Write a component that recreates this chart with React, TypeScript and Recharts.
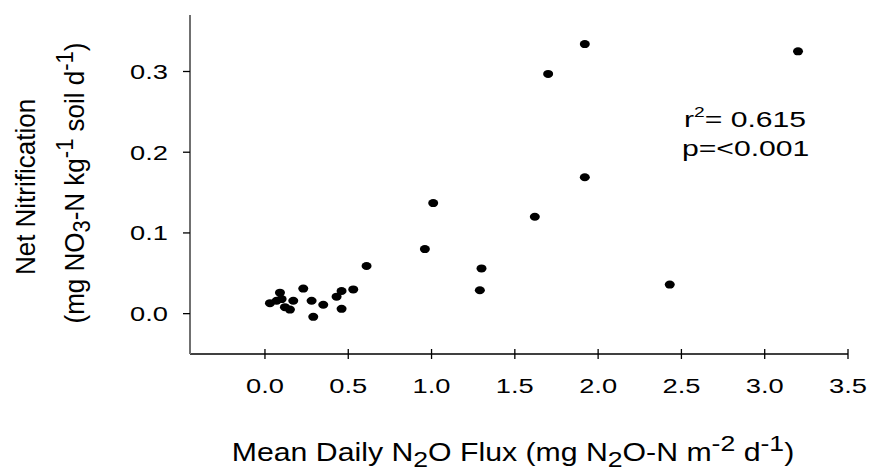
import { ScatterChart, Scatter, XAxis, YAxis } from "recharts";

// N2O flux (x) vs net nitrification (y)
const fluxValues = [
  0.03, 0.07, 0.09, 0.1, 0.12, 0.15, 0.17, 0.23, 0.28, 0.29, 0.35, 0.43, 0.46,
  0.46, 0.53, 0.61, 0.96, 1.01, 1.29, 1.3, 1.62, 1.7, 1.92, 1.92, 2.43, 3.2,
];
const nitrificationValues = [
  0.013, 0.016, 0.026, 0.018, 0.008, 0.005, 0.016, 0.031, 0.016, -0.004, 0.011,
  0.021, 0.028, 0.006, 0.03, 0.059, 0.08, 0.137, 0.029, 0.056, 0.12, 0.297,
  0.334, 0.169, 0.036, 0.325,
];
const xTicks = [0, 0.5, 1, 1.5, 2, 2.5, 3, 3.5];
const yTicks = [0, 0.1, 0.2, 0.3];
const statLines = ["0.615", "<0.001"];

const data = fluxValues.map((x, i) => ({ x, y: nitrificationValues[i] }));

const FONT = "Liberation Sans, Arial, sans-serif";
const FRAME = "#707070";

const XTick = (props: any) => {
  const { x, y, payload } = props;
  return (
    <g>
      <line x1={x} x2={x} y1={y - 5} y2={y + 5} stroke="#000" strokeWidth={1.3} />
      <text
        transform={`translate(${x},${y + 39}) scale(1.3,1)`}
        textAnchor="middle"
        fontSize={21}
        fontFamily={FONT}
        fill="#000"
      >
        {payload.value.toFixed(1)}
      </text>
    </g>
  );
};

const YTick = (props: any) => {
  const { x, y, payload } = props;
  return (
    <g>
      <line x1={x - 7} x2={x} y1={y} y2={y} stroke="#000" strokeWidth={1.3} />
      <text
        transform={`translate(${x - 22},${y + 7.5}) scale(1.3,1)`}
        textAnchor="end"
        fontSize={21}
        fontFamily={FONT}
        fill="#000"
      >
        {payload.value.toFixed(1)}
      </text>
    </g>
  );
};

const Dot = (props: any) => (
  <ellipse cx={props.cx} cy={props.cy} rx={5} ry={4} fill="#000" />
);

export default function App() {
  return (
    <div style={{ position: "absolute", left: 0, top: 0, background: "#fff" }}>
      <ScatterChart
        width={872}
        height={471}
        margin={{ top: 15, right: 24, bottom: 57, left: 130 }}
      >
        <XAxis
          type="number"
          dataKey="x"
          domain={[-0.45, 3.5]}
          ticks={xTicks}
          height={60}
          tickSize={0}
          tickMargin={0}
          tickLine={false}
          tick={<XTick />}
          axisLine={{ stroke: "#000", strokeWidth: 1.5 }}
          allowDataOverflow
        />
        <XAxis
          xAxisId="top"
          orientation="top"
          type="number"
          domain={[-0.45, 3.5]}
          height={0}
          tick={false}
          tickLine={false}
          axisLine={{ stroke: FRAME, strokeWidth: 2 }}
        />
        <YAxis
          type="number"
          dataKey="y"
          domain={[-0.05, 0.37]}
          ticks={yTicks}
          width={60}
          tickSize={0}
          tickMargin={0}
          tickLine={false}
          tick={<YTick />}
          axisLine={{ stroke: FRAME, strokeWidth: 2 }}
          allowDataOverflow
        />
        <YAxis
          yAxisId="right"
          orientation="right"
          type="number"
          domain={[-0.05, 0.37]}
          width={0}
          tick={false}
          tickLine={false}
          axisLine={{ stroke: FRAME, strokeWidth: 2 }}
        />
        <Scatter data={data} shape={<Dot />} isAnimationActive={false} />
        <g fontFamily={FONT} fill="#000">
          <text transform="translate(684,127) scale(1.37,1)" fontSize={22}>
            r<tspan fontSize={14} dy={-10}>2</tspan>
            <tspan dy={10}>= {statLines[0]}</tspan>
          </text>
          <text transform="translate(682,156) scale(1.37,1)" fontSize={22}>
            p={statLines[1]}
          </text>
          <text
            transform="translate(513,461) scale(1.21,1)"
            textAnchor="middle"
            fontSize={25}
          >
            Mean Daily N<tspan dy={6} fontSize={22}>2</tspan>
            <tspan dy={-6}>O Flux (mg N</tspan>
            <tspan dy={6} fontSize={22}>2</tspan>
            <tspan dy={-6}>O-N m</tspan>
            <tspan dy={-10} fontSize={22}>-2</tspan>
            <tspan dy={10}> d</tspan>
            <tspan dy={-10} fontSize={22}>-1</tspan>
            <tspan dy={10}>)</tspan>
          </text>
          <text
            transform="translate(35,187) scale(1.07,1) rotate(-90)"
            textAnchor="middle"
            fontSize={26}
          >
            Net Nitrification
          </text>
          <text
            transform="translate(84,183) scale(1.07,1) rotate(-90)"
            textAnchor="middle"
            fontSize={26}
          >
            (mg NO<tspan dy={6} fontSize={22}>3</tspan>
            <tspan dy={-6}>-N kg</tspan>
            <tspan dy={-10} fontSize={22}>-1</tspan>
            <tspan dy={10}> soil d</tspan>
            <tspan dy={-10} fontSize={22}>-1</tspan>
            <tspan dy={10}>)</tspan>
          </text>
        </g>
      </ScatterChart>
    </div>
  );
}
